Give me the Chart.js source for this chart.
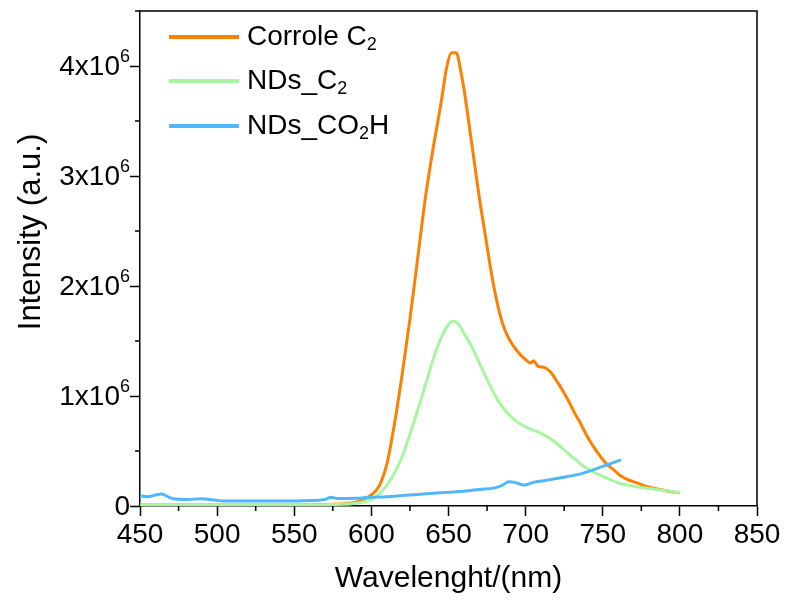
<!DOCTYPE html>
<html>
<head>
<meta charset="utf-8">
<script src="https://cdn.jsdelivr.net/npm/chart.js@4.4.0/dist/chart.umd.min.js"></script>
<style>
  body { margin: 0; background: #fff; }
  #wrap { width: 787px; height: 605px; }
</style>
</head>
<body>
<div id="wrap"><canvas id="c" width="787" height="605"></canvas></div>
<script>
// intensities in units of 10^6
const corroleWl = [450, 500, 550, 575, 585, 590, 595, 600, 605, 610, 615, 620, 625, 630, 635, 640, 645, 649, 652, 655, 658, 661, 664, 667, 670, 674, 678, 682, 686, 690, 695, 700, 703, 705, 708, 712, 716, 720, 724, 728, 732, 736, 740, 744, 748, 752, 757, 762, 768, 774, 780, 787, 794, 800];
const corroleVal = [0.01, 0.01, 0.01, 0.015, 0.025, 0.035, 0.06, 0.1, 0.18, 0.38, 0.75, 1.2, 1.7, 2.25, 2.8, 3.25, 3.65, 4.0, 4.12, 4.12, 3.95, 3.7, 3.4, 3.1, 2.8, 2.45, 2.1, 1.82, 1.62, 1.5, 1.4, 1.33, 1.3, 1.32, 1.27, 1.26, 1.22, 1.14, 1.05, 0.95, 0.84, 0.74, 0.63, 0.54, 0.46, 0.39, 0.33, 0.27, 0.23, 0.2, 0.17, 0.15, 0.13, 0.12];

const ndsC2Wl = [450, 500, 550, 580, 590, 600, 605, 610, 615, 620, 625, 630, 635, 640, 645, 650, 653, 656, 660, 665, 670, 675, 680, 685, 690, 695, 700, 705, 710, 715, 720, 725, 730, 735, 740, 745, 750, 755, 760, 770, 780, 790, 800];
const ndsC2Val = [0.01, 0.01, 0.01, 0.015, 0.025, 0.06, 0.11, 0.19, 0.3, 0.45, 0.65, 0.87, 1.1, 1.33, 1.52, 1.65, 1.68, 1.66, 1.57, 1.45, 1.3, 1.15, 1.01, 0.9, 0.82, 0.76, 0.72, 0.69, 0.66, 0.62, 0.57, 0.51, 0.45, 0.39, 0.34, 0.3, 0.27, 0.24, 0.21, 0.18, 0.16, 0.14, 0.12];

const ndsCo2hWl = [450, 455, 460, 464, 468, 472, 480, 490, 495, 505, 520, 540, 560, 570, 574, 578, 590, 600, 610, 620, 630, 640, 650, 660, 670, 680, 685, 689, 693, 699, 705, 712, 720, 728, 735, 742, 750, 756, 762];
const ndsCo2hVal = [0.09, 0.085, 0.1, 0.11, 0.085, 0.065, 0.06, 0.065, 0.06, 0.045, 0.045, 0.045, 0.05, 0.06, 0.08, 0.068, 0.07, 0.08, 0.085, 0.095, 0.105, 0.115, 0.125, 0.135, 0.15, 0.165, 0.19, 0.22, 0.215, 0.19, 0.215, 0.23, 0.25, 0.27, 0.29, 0.32, 0.36, 0.39, 0.42];

const seriesNames = [['Corrole C', '2', ''], ['NDs_C', '2', ''], ['NDs_CO', '2', 'H']];
const seriesColors = ['#ff7f00', '#a8f5a0', '#50b8fa'];
const xTicks = [450, 500, 550, 600, 650, 700, 750, 800, 850];
const yTicks = [0, 1, 2, 3, 4];

const FONT = '"Liberation Sans", Arial, sans-serif';

function pts(xs, ys) {
  return xs.map((x, i) => ({ x: x, y: ys[i] }));
}

// minor ticks, frame, y labels with exponent, y title, legend
const extras = {
  id: 'extras',
  afterDraw(chart) {
    const ctx = chart.ctx;
    const a = chart.chartArea;
    const xs = chart.scales.x, ys = chart.scales.y;
    ctx.save();
    ctx.strokeStyle = '#000';
    ctx.lineWidth = 1.5;
    ctx.beginPath();
    ctx.moveTo(a.left, a.top); ctx.lineTo(a.right, a.top); ctx.lineTo(a.right, a.bottom);
    for (let v = 475; v < 850; v += 50) {
      const px = xs.getPixelForValue(v);
      ctx.moveTo(px, a.bottom); ctx.lineTo(px, a.bottom + 5);
    }
    for (let v = 0.5; v <= 4.5; v += 1) {
      const py = ys.getPixelForValue(v);
      ctx.moveTo(a.left, py); ctx.lineTo(a.left - 5, py);
    }
    ctx.stroke();

    // y tick labels
    ctx.fillStyle = '#000';
    ctx.textBaseline = 'middle';
    yTicks.forEach(v => {
      const py = ys.getPixelForValue(v);
      const right = a.left - 10;
      if (v === 0) {
        ctx.font = '28px ' + FONT;
        ctx.textAlign = 'right';
        ctx.fillText('0', right, py + 1);
      } else {
        ctx.font = '18px ' + FONT;
        const supW = ctx.measureText('6').width;
        ctx.textAlign = 'right';
        ctx.fillText('6', right, py - 9);
        ctx.font = '28px ' + FONT;
        ctx.fillText(v + 'x10', right - supW, py + 1);
      }
    });

    // y title
    ctx.save();
    ctx.translate(31, 232);
    ctx.rotate(-Math.PI / 2);
    ctx.font = '31px ' + FONT;
    ctx.textAlign = 'center';
    ctx.textBaseline = 'middle';
    ctx.fillText('Intensity (a.u.)', 0, 0);
    ctx.restore();

    // legend
    const rows = [37, 81, 126];
    seriesNames.forEach((parts, i) => {
      const y = rows[i];
      ctx.strokeStyle = seriesColors[i];
      ctx.lineWidth = 4;
      ctx.beginPath();
      ctx.moveTo(169, y); ctx.lineTo(239, y);
      ctx.stroke();
      ctx.fillStyle = '#000';
      ctx.textAlign = 'left';
      ctx.textBaseline = 'middle';
      let x = 247;
      ctx.font = '28px ' + FONT;
      ctx.fillText(parts[0], x, y);
      x += ctx.measureText(parts[0]).width;
      ctx.font = '18px ' + FONT;
      ctx.fillText(parts[1], x, y + 8);
      x += ctx.measureText(parts[1]).width;
      if (parts[2]) {
        ctx.font = '28px ' + FONT;
        ctx.fillText(parts[2], x, y);
      }
    });
    ctx.restore();
  }
};

new Chart(document.getElementById('c'), {
  type: 'line',
  data: {
    datasets: [
      { label: 'Corrole C2', data: pts(corroleWl, corroleVal), borderColor: seriesColors[0], order: 3 },
      { label: 'NDs_C2', data: pts(ndsC2Wl, ndsC2Val), borderColor: seriesColors[1], order: 2 },
      { label: 'NDs_CO2H', data: pts(ndsCo2hWl, ndsCo2hVal), borderColor: seriesColors[2], order: 1 }
    ]
  },
  options: {
    responsive: false,
    animation: false,
    devicePixelRatio: 1,
    layout: { padding: { top: 11, right: 30, left: 0, bottom: 0 } },
    elements: {
      point: { radius: 0 },
      line: { borderWidth: 3, tension: 0.3, cubicInterpolationMode: 'monotone' }
    },
    plugins: { legend: { display: false }, tooltip: { enabled: false } },
    scales: {
      x: {
        type: 'linear', min: 450, max: 850,
        afterBuildTicks: s => { s.ticks = xTicks.map(v => ({ value: v })); },
        afterFit: s => { s.height = 99; },
        ticks: { color: '#000', font: { family: FONT, size: 28 }, padding: 2, maxRotation: 0 },
        grid: { drawOnChartArea: false, tickLength: 10, tickWidth: 1.5, tickColor: '#000' },
        border: { color: '#000', width: 1.5 },
        title: { display: true, text: 'Wavelenght/(nm)', color: '#000', font: { family: FONT, size: 30 }, padding: { top: 0, bottom: 8 } }
      },
      y: {
        type: 'linear', min: 0, max: 4.5,
        afterBuildTicks: s => { s.ticks = yTicks.map(v => ({ value: v })); },
        afterFit: s => { s.width = 140; },
        ticks: { display: false },
        grid: { drawOnChartArea: false, tickLength: 10, tickWidth: 1.5, tickColor: '#000' },
        border: { color: '#000', width: 1.5 }
      }
    }
  },
  plugins: [extras]
});
</script>
</body>
</html>
